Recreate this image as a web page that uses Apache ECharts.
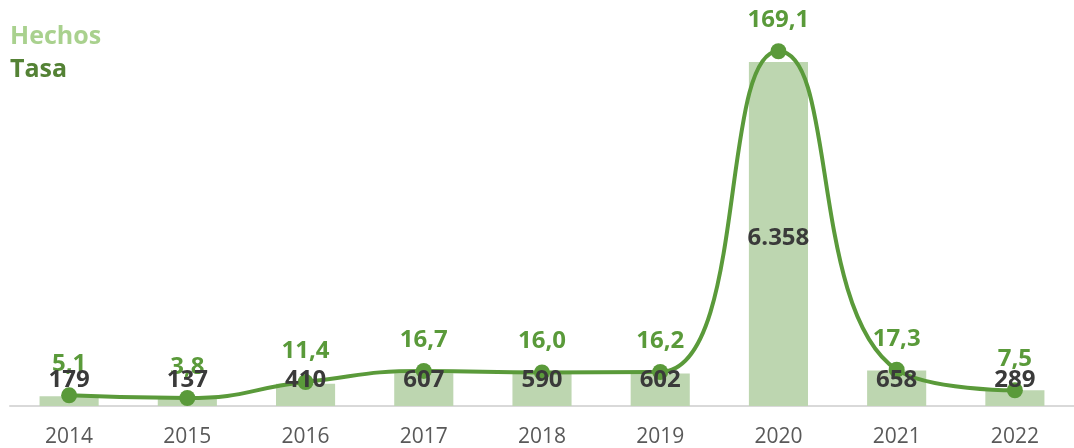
<!DOCTYPE html>
<html><head><meta charset="utf-8">
<script src="https://cdn.jsdelivr.net/npm/echarts@6/dist/echarts.min.js"></script>
<style>html,body{margin:0;padding:0;background:#fff}#c{width:1074px;height:448px}</style>
</head><body><div id="c"></div>
<script>
const years = ['2014','2015','2016','2017','2018','2019','2020','2021','2022'];
const hechos = [179, 137, 410, 607, 590, 602, 6358, 658, 289];
const tasa = [5.1, 3.8, 11.4, 16.7, 16.0, 16.2, 169.1, 17.3, 7.5];

const fmtInt = v => String(v).replace(/\B(?=(\d{3})+(?!\d))/g, '.');
const fmtDec = v => v.toFixed(1).replace('.', ',');
const FONT = '"Open Sans", "Noto Sans", sans-serif';
const barLabel = {
  show: true, position: 'insideBottom', distance: 14,
  color: '#3a3a3a', fontSize: 24, fontWeight: 'bold', fontFamily: FONT,
  formatter: p => fmtInt(p.value)
};

const chart = echarts.init(document.getElementById('c'));
chart.setOption({
  animation: false,
  textStyle: {fontFamily: FONT},
  legend: {
    orient: 'vertical', left: 5, top: 24, itemGap: 8, padding: 0,
    icon: 'rect', itemWidth: 0, itemHeight: 0,
    textStyle: {fontSize: 25, fontWeight: 'bold', fontFamily: FONT},
    data: [
      {name: 'Hechos', textStyle: {color: '#a9d18e'}},
      {name: 'Tasa', textStyle: {color: '#548235'}}
    ]
  },
  grid: {left: 10, width: 1070, top: 20, bottom: 41},
  xAxis: {
    type: 'category', data: years,
    axisLine: {lineStyle: {color: '#d9d9d9', width: 2}},
    axisTick: {show: false},
    axisLabel: {color: '#595959', fontSize: 21, margin: 21, fontFamily: FONT}
  },
  yAxis: [
    {type: 'value', min: 0, max: 7132, show: false, splitLine: {show: false}},
    {type: 'value', min: 0, max: 184, show: false, splitLine: {show: false}}
  ],
  series: [
    {
      name: 'Hechos', type: 'bar', yAxisIndex: 0, barWidth: '50%',
      itemStyle: {color: '#bdd6b0'},
      data: hechos,
      z: 1
    },
    {
      name: 'HechosLabels', type: 'bar', yAxisIndex: 0, barWidth: '50%', barGap: '-100%',
      itemStyle: {color: 'rgba(0,0,0,0)'},
      data: hechos.map(v => v > 3000 ? {value: v, label: {position: 'inside', offset: [0, 4]}} : v),
      label: barLabel,
      silent: true,
      z: 5
    },
    {
      name: 'Tasa', type: 'line', yAxisIndex: 1, smooth: 0.5,
      data: tasa,
      lineStyle: {color: '#5a9a3a', width: 4},
      itemStyle: {color: '#5a9a3a'},
      symbol: 'circle', symbolSize: 16,
      label: {
        show: true, position: 'top', distance: 11,
        color: '#5a9a3a', fontSize: 24, fontWeight: 'bold', fontFamily: FONT,
        formatter: p => fmtDec(p.value)
      },
      z: 3
    }
  ]
});
</script></body></html>
